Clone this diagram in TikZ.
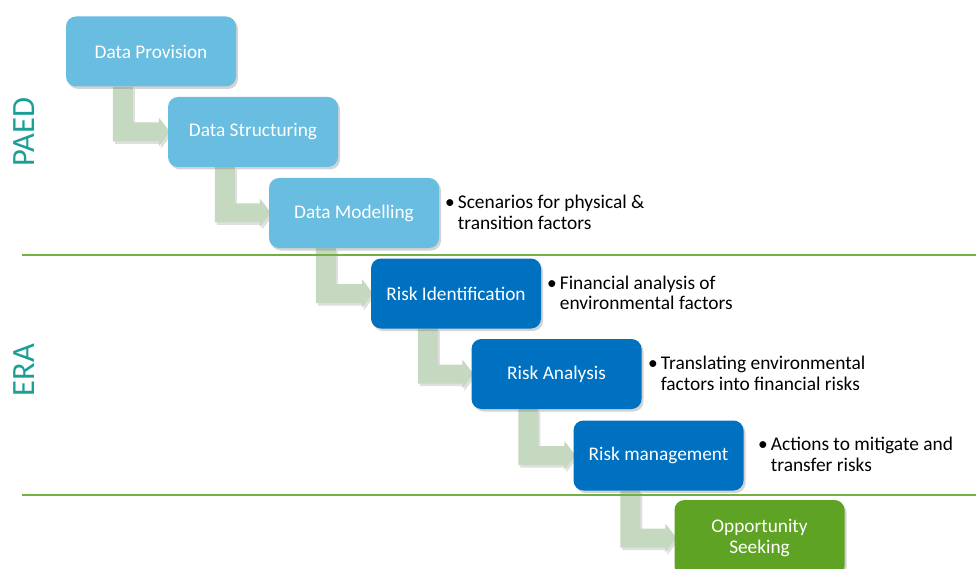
\documentclass[tikz,border=0pt]{standalone}
\usepackage{fontspec}
\setmainfont{Carlito}
\usetikzlibrary{shadows,calc}
\definecolor{lightblue}{RGB}{105,189,224}
\definecolor{darkblue}{RGB}{0,112,192}
\definecolor{stepgreen}{RGB}{94,163,36}
\definecolor{arrowgreen}{RGB}{197,217,192}
\definecolor{linegreen}{RGB}{114,176,67}
\definecolor{tealtext}{RGB}{26,158,150}
\pgfdeclarelayer{bg}
\pgfsetlayers{bg,main}
\tikzset{
  stepbox/.style={rectangle, rounded corners=10pt, minimum width=170pt, minimum height=70pt,
    inner sep=0pt, text=white, align=center, font=\fontsize{19.3}{20.5}\selectfont,
    drop shadow={shadow xshift=2pt, shadow yshift=-2.5pt, opacity=0.35}},
  paedbox/.style={stepbox, fill=lightblue},
  erabox/.style={stepbox, fill=darkblue},
  oppbox/.style={stepbox, fill=stepgreen, minimum height=76pt},
  bullettext/.style={anchor=west, inner sep=0pt, font=\fontsize{19.4}{20.5}\selectfont, text=black},
  arrowfill/.style={fill=arrowgreen, drop shadow={shadow xshift=2pt, shadow yshift=-2.5pt, opacity=0.25}},
  sepline/.style={draw=linegreen, line width=1.3pt},
  sidelabel/.style={rotate=90, text=tealtext, font=\fontsize{32.5}{34}\selectfont, inner sep=0pt}
}
\newcommand\steparrow[2]{%
  \path[arrowfill] let \p1=(#1.south west), \p2=(#2.west) in
    (\x1+47pt,\y1) -- (\x1+67pt,\y1) -- (\x1+67pt,\y2+9.5pt) -- (\x2-9pt,\y2+9.5pt)
    -- (\x2-9pt,\y2+14.5pt) -- (\x2+2pt,\y2) -- (\x2-9pt,\y2-14.5pt) -- (\x2-9pt,\y2-9.5pt)
    -- (\x1+47pt,\y2-9.5pt) -- cycle;}
\begin{document}
\begin{tikzpicture}[x=1pt,y=-1pt]
\useasboundingbox (0,0) rectangle (976,569);
% separator lines
\coordinate (l1a) at (22,255);
\coordinate (l1b) at (976,255);
\coordinate (l2a) at (22,495);
\coordinate (l2b) at (976,495);
\draw[sepline] (l1a) -- (l1b);
\draw[sepline] (l2a) -- (l2b);
% side labels
\node[sidelabel] (paed) at (24,132) {PAED};
\node[sidelabel] (era) at (24,370) {ERA};
% boxes
\node[paedbox] (b1) at (151,51.5) {Data Provision};
\node[paedbox] (b2) at (253,132) {Data Structuring};
\node[paedbox] (b3) at (354,213) {Data Modelling};
\node[erabox] (b4) at (456,293.5) {Risk Identification};
\node[erabox] (b5) at (556.5,374) {Risk Analysis};
\node[erabox] (b6) at (658.5,455.5) {Risk management};
\node[oppbox] (b7) at (759.5,538) {Opportunity\\Seeking};
% arrows
\begin{pgfonlayer}{bg}
\steparrow{b1}{b2}
\steparrow{b2}{b3}
\steparrow{b3}{b4}
\steparrow{b4}{b5}
\steparrow{b5}{b6}
\steparrow{b6}{b7}
\end{pgfonlayer}
% bullet texts
\node[bullettext] (t3) at (445,215) {\begin{tabular}{@{}l@{\hspace{3pt}}l@{}}•&Scenarios for physical \&\\&transition factors\end{tabular}};
\node[bullettext] (t4) at (547,295.5) {\begin{tabular}{@{}l@{\hspace{3pt}}l@{}}•&Financial analysis of\\&environmental factors\end{tabular}};
\node[bullettext] (t5) at (648,376) {\begin{tabular}{@{}l@{\hspace{3pt}}l@{}}•&Translating environmental\\&factors into financial risks\end{tabular}};
\node[bullettext] (t6) at (758,457) {\begin{tabular}{@{}l@{\hspace{3pt}}l@{}}•&Actions to mitigate and\\&transfer risks\end{tabular}};
\end{tikzpicture}
\end{document}
